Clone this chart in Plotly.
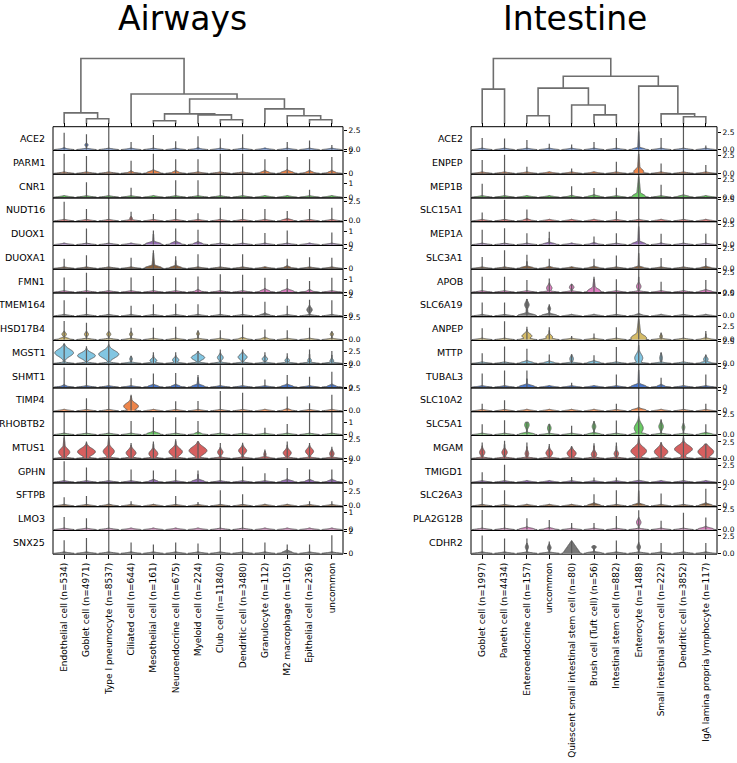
import numpy as np
import plotly.graph_objects as go

W, H = 737, 763
F = 9.9  # whisker runs past the top of the row

# ---------------- Airways ----------------
airway_cells = ["Endothelial cell (n=534)", "Goblet cell (n=4971)", "Type I pneumocyte (n=8537)",
                "Ciliated cell (n=644)", "Mesothelial cell (n=161)", "Neuroendocrine cell (n=675)",
                "Myeloid cell (n=224)", "Club cell (n=11840)", "Dendritic cell (n=3480)",
                "Granulocyte (n=112)", "M2 macrophage (n=105)", "Epithelial cell (n=236)", "uncommon"]
airway_genes = ["ACE2", "PARM1", "CNR1", "NUDT16", "DUOX1", "DUOXA1", "FMN1", "TMEM164", "HSD17B4",
                "MGST1", "SHMT1", "TIMP4", "RHOBTB2", "MTUS1", "GPHN", "SFTPB", "LMO3", "SNX25"]
airway_ymax = [3.0, 2.1, 1.71, 3.0, 1.7, 2.29, 1.85, 2.29, 2.6, 4.8, 2.1, 2.55, 1.85, 3.0, 2.2, 4.0, 1.33, 2.1]
airway_tick = [2.5, 2, 1, 2.5, 1, 2, 1, 2, 2.5, 2.5, 2, 2.5, 1, 2.5, 2, 2.5, 1, 2]
airway_top = [
    [2.2, 2.0, F, 1.0, 1.9, 1.1, 1.75, 1.45, 2.0, 0, 1.0, 1.2, 0.6],
    [1.8, 1.6, F, 1.15, 1.8, 1.3, 1.3, 1.8, 1.8, 1.3, 1.5, 1.3, 1.5],
    [0, 1.1, F, 0.7, 0, 1.25, 1.25, F, 1.65, 0, 0, 0.55, 0],
    [2.5, 1.55, F, 1.2, 0.9, 1.55, 1.0, 1.7, 1.55, 1.55, 1.3, 1.55, 1.7],
    [0, 1.2, F, 0, 1.05, 1.2, 1.1, F, 1.35, 0.85, 1.05, 0, 0.9],
    [0.95, 1.3, F, 1.05, 1.8, 1.2, 1.4, 2.0, 1.4, 0, 0.95, 1.1, 1.05],
    [1.18, 1.56, F, 1.18, 1.3, 1.18, 1.25, 1.45, 1.4, 1.15, 1.05, 0.9, 1.15],
    [1.55, 1.8, F, 1.0, 1.15, 1.2, 1.15, 1.85, 1.8, 1.4, 1.0, 1.6, 1.55],
    [2.1, 1.9, F, 1.35, 1.35, 1.45, 1.05, 1.05, 1.7, 1.15, 1.05, 1.35, 0.95],
    [4.1, 3.6, F, 1.6, 2.3, 2.3, 2.6, 2.9, 2.9, 2.3, 2.1, 2.9, 2.6],
    [1.8, 1.8, F, 0.8, 1.25, 1.3, 1.1, 2.0, 1.8, 0.7, 1.1, 0.95, 1.4],
    [0, 1.4, F, 1.8, 0, 1.05, 1.1, 2.2, 2.0, 0, 1.6, 0.85, 1.8],
    [1.8, 1.8, F, 1.1, 1.4, 1.4, 1.1, 1.8, 1.8, 0.55, 0.85, 1.8, 1.8],
    [F, 2.2, F, 2.0, 2.2, 2.5, 2.2, 2.0, 2.05, 1.15, 2.2, 2.0, 1.5],
    [2.0, 1.4, F, 1.2, 1.1, 1.2, 1.1, 2.15, 1.5, 0.85, 1.35, 1.2, 1.2],
    [1.5, 1.7, F, 0.8, 0, 1.7, 0.65, 2.7, 2.0, 0, 0, 0.8, 0.8],
    [0.73, 0.65, F, 0, 0, 0, 0, 1.27, 1.17, 0, 0, 0, 0],
    [1.2, 1.4, F, 1.0, 0.8, 1.0, 0.9, 1.5, 1.4, 1.0, 0.8, 0.8, 1.65],
]
# (row, col, body half-width, body centre, body spread, neck width)
airway_body = [
    (0, 0, 0.15, 0.05, 0.1, 0), (0, 1, 0.07, 0.6, 0.15, 0), (0, 6, 0.15, 0.05, 0.1, 0),
    (1, 3, 0.15, 0.05, 0.08, 0), (1, 4, 0.3, 0.05, 0.12, 0), (1, 5, 0.18, 0.05, 0.1, 0),
    (1, 9, 0.22, 0.05, 0.1, 0), (1, 10, 0.3, 0.05, 0.12, 0), (1, 11, 0.2, 0.05, 0.1, 0), (1, 12, 0.2, 0.05, 0.1, 0),
    (3, 3, 0.06, 0.3, 0.15, 0), (3, 10, 0.28, 0.05, 0.12, 0),
    (4, 4, 0.35, 0.05, 0.1, 0.04), (4, 5, 0.25, 0.05, 0.1, 0), (4, 6, 0.22, 0.05, 0.08, 0),
    (5, 4, 0.38, 0.05, 0.15, 0.07), (5, 5, 0.28, 0.05, 0.12, 0.03), (5, 10, 0.18, 0.05, 0.1, 0),
    (6, 6, 0.15, 0.05, 0.08, 0), (6, 9, 0.25, 0.05, 0.1, 0), (6, 10, 0.3, 0.05, 0.1, 0), (6, 11, 0.15, 0.05, 0.08, 0),
    (7, 9, 0.25, 0.05, 0.1, 0), (7, 11, 0.12, 0.6, 0.22, 0),
    (8, 0, 0.1, 0.6, 0.18, 0), (8, 0, 0.25, 0.05, 0.12, 0), (8, 1, 0.09, 0.6, 0.18, 0), (8, 2, 0.09, 0.6, 0.18, 0),
    (8, 3, 0.07, 0.6, 0.15, 0), (8, 6, 0.06, 0.65, 0.15, 0), (8, 8, 0.2, 0.05, 0.1, 0), (8, 9, 0.2, 0.05, 0.1, 0),
    (8, 12, 0.07, 0.6, 0.15, 0),
    (9, 0, 0.42, 2.2, 0.75, 0.05), (9, 1, 0.4, 1.6, 0.6, 0.05), (9, 2, 0.45, 1.9, 0.75, 0.05),
    (9, 3, 0.06, 0.9, 0.3, 0.02), (9, 4, 0.15, 0.6, 0.35, 0.04), (9, 5, 0.14, 0.7, 0.4, 0.04),
    (9, 6, 0.3, 1.2, 0.5, 0.05), (9, 7, 0.13, 1.2, 0.45, 0.04), (9, 8, 0.2, 1.3, 0.5, 0.05),
    (9, 9, 0.12, 0.9, 0.35, 0.03), (9, 10, 0.1, 0.6, 0.3, 0.03), (9, 11, 0.08, 0.6, 0.35, 0.03),
    (9, 12, 0.08, 0.5, 0.35, 0.03),
    (10, 0, 0.15, 0.05, 0.08, 0), (10, 4, 0.25, 0.05, 0.1, 0), (10, 5, 0.22, 0.05, 0.1, 0),
    (10, 6, 0.3, 0.05, 0.12, 0.05), (10, 10, 0.28, 0.05, 0.1, 0), (10, 12, 0.22, 0.05, 0.1, 0),
    (11, 3, 0.33, 0.5, 0.35, 0.12), (11, 10, 0.2, 0.05, 0.1, 0),
    (12, 4, 0.3, 0.05, 0.1, 0), (12, 6, 0.18, 0.05, 0.08, 0),
    (13, 0, 0.25, 0.8, 0.45, 0.1), (13, 1, 0.4, 0.85, 0.45, 0.12), (13, 2, 0.25, 0.9, 0.45, 0.1),
    (13, 3, 0.22, 0.7, 0.4, 0.08), (13, 4, 0.2, 0.6, 0.4, 0.08), (13, 5, 0.3, 0.85, 0.45, 0.1),
    (13, 6, 0.4, 1.0, 0.5, 0.12), (13, 7, 0.12, 0.8, 0.3, 0.04), (13, 8, 0.18, 1.0, 0.35, 0.05),
    (13, 9, 0.05, 0.5, 0.25, 0.02), (13, 9, 0.25, 0.05, 0.1, 0), (13, 10, 0.18, 0.7, 0.35, 0.05),
    (13, 11, 0.18, 0.9, 0.35, 0.05), (13, 12, 0.1, 0.6, 0.3, 0.04),
    (14, 4, 0.22, 0.05, 0.1, 0), (14, 6, 0.3, 0.05, 0.12, 0.03), (14, 10, 0.3, 0.05, 0.1, 0),
    (14, 11, 0.22, 0.05, 0.1, 0), (14, 12, 0.22, 0.05, 0.1, 0),
    (15, 2, 0.2, 0.05, 0.12, 0),
    (17, 10, 0.25, 0.05, 0.12, 0),
]
airway_links = [(1, 2, 5), (0, 13, 11), (4, 5, 3), (7, 8, 4), (6, 16, 9), (15, 17, 10),
                (11, 12, 4), (10, 19, 8), (9, 20, 15), (18, 21, 25), (3, 22, 30), (14, 23, 66)]

# ---------------- Intestine ----------------
intestine_cells = ["Goblet cell (n=1997)", "Paneth cell (n=4434)", "Enteroendocrine cell (n=157)", "uncommon",
                   "Quiescent small intestinal stem cell (n=80)", "Brush cell (Tuft cell) (n=56)",
                   "Intestinal stem cell (n=882)", "Enterocyte (n=1488)", "Small intestinal stem cell (n=222)",
                   "Dendritic cell (n=3852)", "IgA lamina propria lymphocyte (n=117)"]
intestine_genes = ["ACE2", "ENPEP", "MEP1B", "SLC15A1", "MEP1A", "SLC3A1", "APOB", "SLC6A19", "ANPEP",
                   "MTTP", "TUBAL3", "SLC10A2", "SLC5A1", "MGAM", "TMIGD1", "SLC26A3", "PLA2G12B", "CDHR2"]
intestine_ymax = [3.33, 3.16, 3.16, 2.73, 2.86, 2.86, 2.86, 2.6, 4.5, 2.6, 2.2, 2.3, 2.86, 3.5, 3.5, 2.5, 2.86, 3.3]
intestine_tick = [2.5, 2.5, 2.5, 2.5, 2.5, 2.5, 2.5, 2.5, 2.5, 2.5, 2, 2, 2.5, 2.5, 2.5, 2, 2.5, 2.5]
intestine_top = [
    [1.7, 1.6, 1.4, 0.85, 0.75, 1.1, 1.7, F, 1.7, F, 0.6],
    [1.85, 2.55, 0.9, 0, 0.65, 0, 1.6, F, 1.35, F, 1.15],
    [1.85, 3.0, 0, 0, 1.5, 1.25, 1.3, F, 1.7, F, 0],
    [1.0, 2.5, 1.35, 0, 0, 0, 1.15, F, 0, F, 0],
    [1.85, 2.05, 1.4, 1.6, 0, 1.0, 1.4, F, 1.35, F, 1.35],
    [1.4, 2.25, 1.7, 1.2, 0, 1.2, 1.6, F, 1.3, F, 1.3],
    [1.9, 1.9, 1.5, 1.7, 1.0, 1.9, 1.6, F, 1.3, F, 1.5],
    [1.5, 1.5, 1.9, 1.3, 0, 0, 2.5, F, 0, F, 0],
    [2.2, 3.6, 2.5, 2.4, 0.7, 1.2, 2.4, F, 1.4, F, 1.7],
    [1.15, 1.9, 1.65, 1.0, 1.0, 0.9, 1.85, F, 1.25, F, 1.0],
    [1.3, 1.6, 1.6, 0, 0.4, 0, 1.2, F, 0.9, F, 1.2],
    [0.7, 1.05, 0, 0, 0, 0, 0.7, F, 0, F, 0.7],
    [1.3, 1.8, 1.55, 1.3, 1.1, 1.7, 1.75, F, 1.9, F, 1.3],
    [2.4, 2.7, 2.4, 2.2, 1.8, 2.3, 2.4, F, 2.4, F, 2.2],
    [1.5, 2.65, 0, 0, 0.75, 0.7, 0.7, F, 0, F, 0],
    [1.95, 1.7, 0, 0, 0, 1.25, 1.7, F, 1.35, F, 1.85],
    [2.45, 2.75, 1.4, 1.2, 0.8, 0.8, 1.7, 2.4, 1.1, 2.1, 1.5],
    [2.55, 2.15, 2.15, 1.7, 1.85, 1.1, 1.85, F, 1.5, F, 1.5],
]
intestine_body = [
    (0, 5, 0.15, 0.05, 0.08, 0), (0, 7, 0.3, 0.05, 0.15, 0.05),
    (1, 7, 0.22, 0.25, 0.35, 0.07), (1, 8, 0.12, 0.05, 0.08, 0), (1, 9, 0.15, 0.05, 0.08, 0), (1, 10, 0.15, 0.05, 0.08, 0),
    (2, 4, 0.18, 0.05, 0.1, 0), (2, 5, 0.3, 0.05, 0.12, 0), (2, 7, 0.3, 0.1, 0.3, 0.1), (2, 9, 0.28, 0.05, 0.12, 0),
    (3, 2, 0.2, 0.05, 0.1, 0), (3, 7, 0.12, 0.05, 0.08, 0),
    (4, 3, 0.3, 0.05, 0.12, 0.02), (4, 5, 0.2, 0.05, 0.1, 0), (4, 7, 0.33, 0.05, 0.2, 0.05), (4, 8, 0.15, 0.05, 0.08, 0),
    (5, 2, 0.3, 0.05, 0.12, 0.02), (5, 3, 0.2, 0.05, 0.1, 0), (5, 5, 0.25, 0.05, 0.1, 0),
    (5, 7, 0.25, 0.05, 0.12, 0.03), (5, 10, 0.25, 0.05, 0.1, 0),
    (6, 3, 0.12, 0.5, 0.3, 0.03), (6, 4, 0.1, 0.6, 0.22, 0), (6, 5, 0.3, 0.1, 0.3, 0.08),
    (6, 7, 0.1, 0.7, 0.3, 0.03), (6, 10, 0.3, 0.05, 0.12, 0),
    (7, 2, 0.4, 0.05, 0.15, 0.05), (7, 2, 0.1, 1.25, 0.3, 0), (7, 3, 0.35, 0.05, 0.12, 0.03),
    (7, 3, 0.06, 0.8, 0.2, 0), (7, 7, 0.2, 0.05, 0.1, 0),
    (8, 2, 0.22, 0.7, 0.45, 0.05), (8, 2, 0.3, 0.05, 0.15, 0), (8, 3, 0.15, 0.5, 0.35, 0.04),
    (8, 3, 0.3, 0.05, 0.15, 0), (8, 7, 0.35, 0.3, 0.6, 0.12), (8, 8, 0.06, 0.6, 0.3, 0),
    (8, 10, 0.25, 0.05, 0.15, 0.03),
    (9, 2, 0.3, 0.05, 0.12, 0), (9, 3, 0.25, 0.05, 0.1, 0), (9, 4, 0.08, 0.5, 0.25, 0),
    (9, 5, 0.3, 0.05, 0.12, 0), (9, 7, 0.18, 0.6, 0.45, 0.05), (9, 8, 0.06, 0.6, 0.3, 0),
    (9, 10, 0.1, 0.45, 0.22, 0), (9, 10, 0.25, 0.05, 0.1, 0),
    (10, 2, 0.35, 0.05, 0.12, 0.02), (10, 7, 0.35, 0.05, 0.15, 0.04), (10, 8, 0.2, 0.05, 0.1, 0),
    (11, 7, 0.35, 0.05, 0.12, 0),
    (12, 2, 0.1, 1.2, 0.35, 0), (12, 2, 0.35, 0.05, 0.12, 0), (12, 3, 0.08, 0.8, 0.3, 0),
    (12, 5, 0.08, 1.0, 0.3, 0), (12, 5, 0.3, 0.05, 0.1, 0), (12, 7, 0.2, 0.8, 0.55, 0.05),
    (12, 7, 0.35, 0.05, 0.12, 0), (12, 8, 0.1, 1.0, 0.35, 0), (12, 9, 0.06, 0.9, 0.3, 0),
    (12, 10, 0.3, 0.05, 0.1, 0),
    (13, 0, 0.12, 0.9, 0.4, 0.05), (13, 1, 0.12, 0.9, 0.4, 0.05), (13, 2, 0.08, 0.7, 0.4, 0.04),
    (13, 3, 0.15, 0.8, 0.4, 0.06), (13, 4, 0.2, 0.75, 0.45, 0.08), (13, 5, 0.12, 0.6, 0.4, 0.06),
    (13, 6, 0.1, 0.7, 0.35, 0.05), (13, 7, 0.35, 1.1, 0.6, 0.12), (13, 8, 0.3, 1.0, 0.55, 0.1),
    (13, 9, 0.4, 1.4, 0.55, 0.12), (13, 10, 0.35, 1.0, 0.6, 0.12),
    (14, 7, 0.3, 0.05, 0.1, 0),
    (15, 5, 0.3, 0.05, 0.12, 0), (15, 7, 0.3, 0.05, 0.12, 0.03), (15, 10, 0.3, 0.05, 0.12, 0),
    (16, 2, 0.35, 0.05, 0.12, 0), (16, 3, 0.25, 0.05, 0.1, 0), (16, 7, 0.1, 0.9, 0.3, 0.02),
    (16, 10, 0.35, 0.05, 0.15, 0),
    (17, 2, 0.07, 0.9, 0.3, 0), (17, 3, 0.08, 0.8, 0.3, 0), (17, 4, 0.0, 0.0, 1.0, 0.4),
    (17, 5, 0.1, 0.9, 0.18, 0), (17, 5, 0.35, 0.05, 0.1, 0), (17, 7, 0.08, 0.9, 0.3, 0.02),
]
intestine_links = [(0, 1, 35), (2, 3, 8), (5, 6, 9), (4, 13, 19), (12, 14, 36), (9, 10, 7),
                   (8, 16, 10), (7, 17, 38), (15, 18, 48), (11, 19, 66)]

palette = ['#4878d0', '#ee854a', '#6acc64', '#d65f5f', '#956cb4', '#8c613c',
           '#dc7ec0', '#797979', '#d5bb67', '#82c6e2']

FONT = "DejaVu Sans"
PANEL_TOP, PANEL_BOTTOM = 124, 556
ROW_H = (PANEL_BOTTOM - PANEL_TOP) / 18.0
EDGE = "rgb(95,95,95)"


def py(v):
    return 1 - v / H


def px(v):
    return v / W


def axkey(kind, n):
    return f"{kind}axis" + ("" if n == 1 else str(n))


def axref(kind, n):
    return kind + ("" if n == 1 else str(n))


def violin_outline(col, top, ymax, bodies):
    hb = 0.08 * ymax
    taper = max(min(top, ymax), 1e-6)
    ytop = max(min(top, ymax * 1.05), hb)
    ys = np.linspace(0, ytop, 90)
    w = 0.45 * np.clip(1 - ys / hb, 0, None) ** 2
    for bw, bc, bh, nw in bodies:
        if bw > 0:
            w = np.maximum(w, bw * np.exp(-0.5 * ((ys - bc) / bh) ** 2))
        if nw > 0:
            w = np.maximum(w, nw * np.clip(1 - ys / taper, 0, None))
    keep = w > 0.01
    keep[0] = True
    last = np.nonzero(keep)[0].max()
    ys, w = ys[:last + 1], w[:last + 1]
    xs = np.concatenate([col + w, (col - w)[::-1]])
    yy = np.concatenate([ys, ys[::-1]])
    return list(xs) + [None], list(yy) + [None]


panels = [
    dict(title="Airways", title_x=182, cells=airway_cells, genes=airway_genes, ymax=airway_ymax,
         tick=airway_tick, top=airway_top, body=airway_body, links=airway_links,
         x0=53, x1=343, xn=1, yn0=1, dxn=3, dyn=37),
    dict(title="Intestine", title_x=575, cells=intestine_cells, genes=intestine_genes, ymax=intestine_ymax,
         tick=intestine_tick, top=intestine_top, body=intestine_body, links=intestine_links,
         x0=471, x1=717, xn=2, yn0=19, dxn=4, dyn=38),
]

fig = go.Figure()
layout = dict(width=W, height=H, margin=dict(l=0, r=0, t=0, b=0), showlegend=False,
              paper_bgcolor="white", plot_bgcolor="white", font=dict(family=FONT, color="black"))
shapes, annotations = [], []

for p in panels:
    n = len(p["cells"])
    xd = [px(p["x0"]), px(p["x1"])]
    bottom_y = p["yn0"] + 17
    layout[axkey("x", p["xn"])] = dict(
        domain=xd, range=[-0.5, n - 0.5], anchor=axref("y", bottom_y),
        tickmode="array", tickvals=list(range(n)), ticktext=p["cells"], tickangle=-90,
        ticks="outside", ticklen=4, tickwidth=1, tickcolor="black",
        tickfont=dict(size=9, family=FONT, color="black"),
        showgrid=False, zeroline=False, showline=False)
    for r, gene in enumerate(p["genes"]):
        yn = p["yn0"] + r
        ymax = p["ymax"][r]
        t = p["tick"][r]
        if t == 2.5:
            ttxt = ["0.0", "2.5"]
        else:
            ttxt = ["0", str(int(t))]
        top_px = PANEL_TOP + ROW_H * r
        bot_px = top_px + ROW_H
        layout[axkey("y", yn)] = dict(
            domain=[py(bot_px), py(top_px)], range=[-0.04 * ymax, ymax], anchor=axref("x", p["xn"]),
            side="right", tickmode="array", tickvals=[0, t], ticktext=ttxt,
            ticks="outside", ticklen=3, tickwidth=0.8, tickcolor="black",
            tickfont=dict(size=7.5, family=FONT, color="black"),
            showgrid=False, zeroline=False, showline=False)
        xs, ys, wx, wy = [], [], [], []
        for c in range(n):
            top = p["top"][r][c]
            bodies = [b[2:] for b in p["body"] if b[0] == r and b[1] == c]
            vx, vy = violin_outline(c, top, ymax, bodies)
            xs += vx
            ys += vy
            if top > 0:
                wx += [c, c, None]
                wy += [0, min(top, ymax * 1.1), None]
        fig.add_trace(go.Scatter(
            x=xs, y=ys, mode="lines", fill="toself", fillcolor=palette[r % 10],
            line=dict(color=EDGE, width=0.9, simplify=False), hoverinfo="skip",
            xaxis=axref("x", p["xn"]), yaxis=axref("y", yn)))
        fig.add_trace(go.Scatter(
            x=wx, y=wy, mode="lines", line=dict(color="rgb(90,90,90)", width=1.2),
            connectgaps=False, hoverinfo="skip", xaxis=axref("x", p["xn"]), yaxis=axref("y", yn)))
        shapes.append(dict(type="rect", xref=axref("x", p["xn"]) + " domain",
                           yref=axref("y", yn) + " domain", x0=0, x1=1, y0=0, y1=1,
                           line=dict(color="black", width=1)))
        annotations.append(dict(text=gene, xref="paper", yref="paper", x=px(p["x0"] - 6),
                                y=py((top_px + bot_px) / 2), xanchor="right", yanchor="middle",
                                showarrow=False, font=dict(size=9.5, family=FONT, color="black")))

    # dendrogram
    pos = {i: float(i) for i in range(n)}
    hgt = {i: 0.0 for i in range(n)}
    dx, dy = [], []
    for k, (a, b, h) in enumerate(p["links"]):
        dx += [pos[a], pos[a], pos[b], pos[b], None]
        dy += [hgt[a], h, h, hgt[b], None]
        pos[n + k] = (pos[a] + pos[b]) / 2
        hgt[n + k] = h
    layout[axkey("x", p["dxn"])] = dict(
        domain=xd, range=[-0.5, n - 0.5], anchor=axref("y", p["dyn"]),
        tickmode="array", tickvals=list(range(n)), ticks="inside", ticklen=4, tickwidth=1,
        tickcolor="black", showticklabels=False, showgrid=False, zeroline=False, showline=False)
    layout[axkey("y", p["dyn"])] = dict(
        domain=[py(PANEL_TOP), py(50)], range=[-3, 71], anchor=axref("x", p["dxn"]),
        visible=False, showgrid=False, zeroline=False)
    fig.add_trace(go.Scatter(x=dx, y=dy, mode="lines", line=dict(color="rgb(110,110,110)", width=1.6),
                             hoverinfo="skip", xaxis=axref("x", p["dxn"]), yaxis=axref("y", p["dyn"])))
    annotations.append(dict(text=p["title"], xref="paper", yref="paper", x=px(p["title_x"]), y=py(15),
                            xanchor="center", yanchor="middle", showarrow=False,
                            font=dict(size=33, family=FONT, color="black")))

layout["shapes"] = shapes
layout["annotations"] = annotations
fig.update_layout(**layout)
fig.write_html("out.html", config={"displayModeBar": False},
               post_script="document.body.style.margin='0';document.body.style.padding='0';")
